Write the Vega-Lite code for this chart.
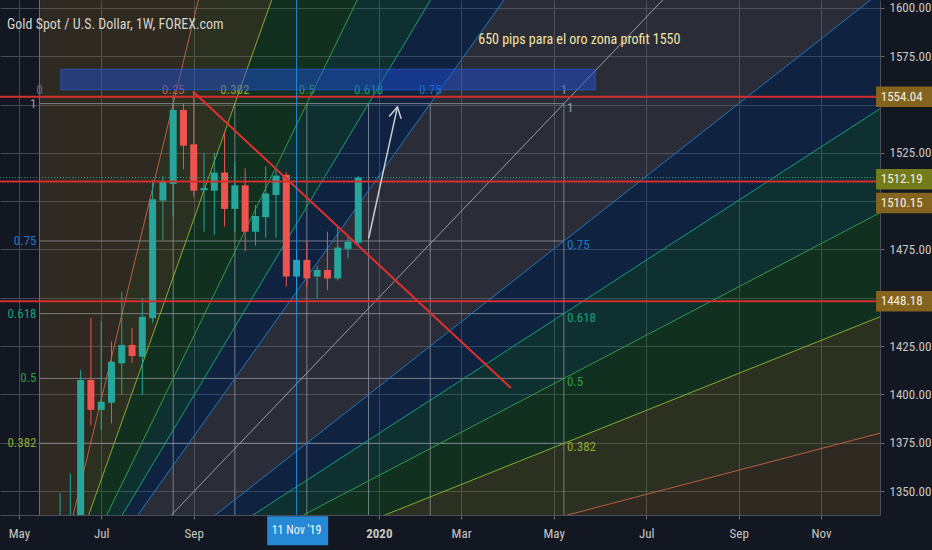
{
 "$schema": "https://vega.github.io/schema/vega-lite/v6.json",
 "width": 880,
 "height": 515,
 "autosize": {"type": "none"},
 "padding": {"left": 0, "top": 0, "right": 52, "bottom": 35},
 "background": "#131722",
 "title": {"text": "Gold Spot / U.S. Dollar, 1W, FOREX.com", "anchor": "start", "frame": "group", "offset": -32, "dx": 7, "fontSize": 14, "fontWeight": "normal", "color": "#d6d3c9", "font": "Liberation Sans Narrow, Arial Narrow, Roboto Condensed, DejaVu Sans Condensed, sans-serif"},
 "config": {
  "view": {"stroke": null},
  "font": "Liberation Sans Narrow, Arial Narrow, Roboto Condensed, DejaVu Sans Condensed, sans-serif"
 },
 "datasets": {
  "fills": [
   {"w": "pgy", "band": "gy", "d": "2019-05-20", "top": 1266, "bot": 1266}, {"w": "pgy", "band": "gy", "d": "2020-12-31", "top": 1737.0, "bot": 1619.2},
   {"w": "pnv", "band": "nv", "d": "2019-05-20", "top": 1266, "bot": 1266}, {"w": "pnv", "band": "nv", "d": "2020-12-31", "top": 1619.2, "bot": 1557.1},
   {"w": "pte", "band": "te", "d": "2019-05-20", "top": 1266, "bot": 1266}, {"w": "pte", "band": "te", "d": "2020-12-31", "top": 1557.1, "bot": 1501.5},
   {"w": "pgr", "band": "gr", "d": "2019-05-20", "top": 1266, "bot": 1266}, {"w": "pgr", "band": "gr", "d": "2020-12-31", "top": 1501.5, "bot": 1445.9},
   {"w": "pol", "band": "ol", "d": "2019-05-20", "top": 1266, "bot": 1266}, {"w": "pol", "band": "ol", "d": "2020-12-31", "top": 1445.9, "bot": 1383.7},
   {"w": "pbr", "band": "br", "d": "2019-05-20", "top": 1266, "bot": 1266}, {"w": "pbr", "band": "br", "d": "2020-12-31", "top": 1383.7, "bot": 1266},
   {"w": "tbr", "band": "br", "d": "2019-05-20", "top": 1266, "bot": 1266}, {"w": "tbr", "band": "br", "d": "2019-09-19T20:00Z", "top": 100000, "bot": 1650},
   {"w": "tol", "band": "ol", "d": "2019-05-20", "top": 1266, "bot": 1266}, {"w": "tol", "band": "ol", "d": "2019-11-15T12:00Z", "top": 1827.2, "bot": 1650},
   {"w": "tgr", "band": "gr", "d": "2019-05-20", "top": 1266, "bot": 1266}, {"w": "tgr", "band": "gr", "d": "2020-01-20T16:00Z", "top": 1791.5, "bot": 1650},
   {"w": "tte", "band": "te", "d": "2019-05-20", "top": 1266, "bot": 1266}, {"w": "tte", "band": "te", "d": "2020-03-17T08:00Z", "top": 1738.6, "bot": 1650},
   {"w": "tnv", "band": "nv", "d": "2019-05-20", "top": 1266, "bot": 1266}, {"w": "tnv", "band": "nv", "d": "2020-05-13T01:00Z", "top": 1722.0, "bot": 1650},
   {"w": "tgy", "band": "gy", "d": "2019-05-20", "top": 1266, "bot": 1266}, {"w": "tgy", "band": "gy", "d": "2020-09-12T21:00Z", "top": 1781.4, "bot": 1650}
  ],
  "fanlines": [
   {"lvl": "0.25", "x1": "2019-05-20", "y1": 1266, "x2": "2020-12-31", "y2": 1383.7},
   {"lvl": "0.382", "x1": "2019-05-20", "y1": 1266, "x2": "2020-12-31", "y2": 1445.9},
   {"lvl": "0.5", "x1": "2019-05-20", "y1": 1266, "x2": "2020-12-31", "y2": 1501.5},
   {"lvl": "0.618", "x1": "2019-05-20", "y1": 1266, "x2": "2020-12-31", "y2": 1557.1},
   {"lvl": "0.75", "x1": "2019-05-20", "y1": 1266, "x2": "2020-12-31", "y2": 1619.2},
   {"lvl": "1", "x1": "2019-05-20", "y1": 1266, "x2": "2020-12-31", "y2": 1737.0},
   {"lvl": "0", "x1": "2019-05-20", "y1": 1266, "x2": "2019-05-20", "y2": 1650},
   {"lvl": "0.25", "x1": "2019-05-20", "y1": 1266, "x2": "2019-09-19T20:00Z", "y2": 1650},
   {"lvl": "0.382", "x1": "2019-05-20", "y1": 1266, "x2": "2019-11-15T12:00Z", "y2": 1650},
   {"lvl": "0.5", "x1": "2019-05-20", "y1": 1266, "x2": "2020-01-20T16:00Z", "y2": 1650},
   {"lvl": "0.618", "x1": "2019-05-20", "y1": 1266, "x2": "2020-03-17T08:00Z", "y2": 1650},
   {"lvl": "0.75", "x1": "2019-05-20", "y1": 1266, "x2": "2020-05-13T01:00Z", "y2": 1650}
  ],
  "fangrid": [
   {"x1": "2019-05-20", "x2": "2020-05-11", "y1": 1550.5, "y2": 1550.5},
   {"x1": "2019-05-20", "x2": "2020-05-11", "y1": 1479.4, "y2": 1479.4},
   {"x1": "2019-05-20", "x2": "2020-05-11", "y1": 1441.8, "y2": 1441.8},
   {"x1": "2019-05-20", "x2": "2020-05-11", "y1": 1408.3, "y2": 1408.3},
   {"x1": "2019-05-20", "x2": "2020-05-11", "y1": 1374.7, "y2": 1374.7},
   {"x1": "2019-05-20", "x2": "2020-05-11", "y1": 1337.1, "y2": 1337.1},
   {"x1": "2019-08-19", "x2": "2019-08-19", "y1": 1266, "y2": 1550.5},
   {"x1": "2019-09-30", "x2": "2019-09-30", "y1": 1266, "y2": 1550.5},
   {"x1": "2019-11-18", "x2": "2019-11-18", "y1": 1266, "y2": 1550.5},
   {"x1": "2019-12-30", "x2": "2019-12-30", "y1": 1266, "y2": 1550.5},
   {"x1": "2020-02-10", "x2": "2020-02-10", "y1": 1266, "y2": 1550.5},
   {"x1": "2020-05-11", "x2": "2020-05-11", "y1": 1266, "y2": 1550.5}
  ],
  "toplabels": [
   {"t": "0", "d": "2019-05-20", "lvl": "0"},
   {"t": "0.25", "d": "2019-08-19", "lvl": "0.25"},
   {"t": "0.382", "d": "2019-09-30", "lvl": "0.382"},
   {"t": "0.5", "d": "2019-11-18", "lvl": "0.5"},
   {"t": "0.618", "d": "2019-12-30", "lvl": "0.618"},
   {"t": "0.75", "d": "2020-02-10", "lvl": "0.75"},
   {"t": "1", "d": "2020-05-11", "lvl": "1"}
  ],
  "sidelabels": [
   {"t": "1", "p": 1550.5, "lvl": "1"},
   {"t": "0.75", "p": 1479.4, "lvl": "0.75"},
   {"t": "0.618", "p": 1441.8, "lvl": "0.618"},
   {"t": "0.5", "p": 1408.3, "lvl": "0.5"},
   {"t": "0.382", "p": 1374.7, "lvl": "0.382"}
  ],
  "candles": [
   {"d": "2019-06-03", "o": 1300, "h": 1349, "l": 1295, "c": 1336},
   {"d": "2019-06-10", "o": 1326, "h": 1359, "l": 1320, "c": 1336},
   {"d": "2019-06-17", "o": 1336, "h": 1412.6, "l": 1330, "c": 1407.5},
   {"d": "2019-06-24", "o": 1407.5, "h": 1439.5, "l": 1384, "c": 1392},
   {"d": "2019-07-01", "o": 1392, "h": 1438, "l": 1381.6, "c": 1396.2},
   {"d": "2019-07-08", "o": 1395.7, "h": 1427.3, "l": 1385, "c": 1416.9},
   {"d": "2019-07-15", "o": 1416.1, "h": 1453.2, "l": 1399.8, "c": 1425.6},
   {"d": "2019-07-22", "o": 1425.6, "h": 1434.4, "l": 1416.3, "c": 1419.9},
   {"d": "2019-07-29", "o": 1419.5, "h": 1449.9, "l": 1399.7, "c": 1440.2},
   {"d": "2019-08-05", "o": 1439.5, "h": 1511, "l": 1437, "c": 1501},
   {"d": "2019-08-12", "o": 1500.3, "h": 1513, "l": 1480, "c": 1510.1},
   {"d": "2019-08-19", "o": 1508.9, "h": 1555, "l": 1492, "c": 1547.2},
   {"d": "2019-08-26", "o": 1547.2, "h": 1550.7, "l": 1516.5, "c": 1528.7},
   {"d": "2019-09-02", "o": 1529.4, "h": 1557, "l": 1502.3, "c": 1505.4},
   {"d": "2019-09-09", "o": 1505.6, "h": 1525, "l": 1484.2, "c": 1506.8},
   {"d": "2019-09-16", "o": 1505.4, "h": 1525, "l": 1482.5, "c": 1514.8},
   {"d": "2019-09-23", "o": 1514.8, "h": 1536, "l": 1486.8, "c": 1496},
   {"d": "2019-09-30", "o": 1496, "h": 1520.5, "l": 1484.2, "c": 1508.2},
   {"d": "2019-10-07", "o": 1508.2, "h": 1517, "l": 1474, "c": 1484.2},
   {"d": "2019-10-14", "o": 1484.2, "h": 1498, "l": 1477, "c": 1492.3},
   {"d": "2019-10-21", "o": 1491.7, "h": 1518, "l": 1481, "c": 1504},
   {"d": "2019-10-28", "o": 1503.2, "h": 1516, "l": 1481, "c": 1513.2},
   {"d": "2019-11-04", "o": 1513.6, "h": 1515, "l": 1455.8, "c": 1461},
   {"d": "2019-11-11", "o": 1461, "h": 1474.7, "l": 1449.7, "c": 1469.6},
   {"d": "2019-11-18", "o": 1469.6, "h": 1479, "l": 1455.7, "c": 1460},
   {"d": "2019-11-25", "o": 1461, "h": 1466.5, "l": 1449.7, "c": 1464.4},
   {"d": "2019-12-02", "o": 1464.4, "h": 1484.2, "l": 1454, "c": 1460},
   {"d": "2019-12-09", "o": 1460, "h": 1486.8, "l": 1459, "c": 1476},
   {"d": "2019-12-16", "o": 1475.3, "h": 1482, "l": 1470.4, "c": 1479},
   {"d": "2019-12-23", "o": 1478.5, "h": 1513, "l": 1477, "c": 1512.19}
  ],
  "hlines": [{"p": 1554.04}, {"p": 1510.15}, {"p": 1448.18}],
  "segs": [
   {"k": "trend", "x1": "2019-09-01T12:00Z", "y1": 1556.7, "x2": "2020-04-05", "y2": 1403.3}
  ],
  "arrow": [
   {"x1": "2019-12-30T03:00Z", "y1": 1480.95, "x2": "2020-01-18T16:00Z", "y2": 1548.76},
   {"x1": "2020-01-13T06:00Z", "y1": 1544.1, "x2": "2020-01-18T16:00Z", "y2": 1548.76},
   {"x1": "2020-01-21T02:00Z", "y1": 1542.9, "x2": "2020-01-18T16:00Z", "y2": 1548.76}
  ],
  "zone": [{"x1": "2019-06-03T12:00Z", "x2": "2020-06-01T08:00Z", "y1": 1557.6, "y2": 1568.3}],
  "notes": [{"t": "650 pips para el oro zona profit 1550", "d": "2020-05-21T12:00Z", "p": 1583.4}],
  "tags": [
   {"t": "1554.04", "k": "r", "c": 1554.04, "lo": 1548.7, "hi": 1559.4},
   {"t": "1512.19", "k": "g", "c": 1511.4, "lo": 1506.1, "hi": 1516.7},
   {"t": "1510.15", "k": "r", "c": 1499.0, "lo": 1493.8, "hi": 1504.3},
   {"t": "1448.18", "k": "r", "c": 1448.18, "lo": 1442.9, "hi": 1453.5}
  ],
  "cross": [{"d": "2019-11-11", "t": "11 Nov '19", "x1": "2019-10-22", "x2": "2019-12-02T12:00Z", "lo": 1322, "hi": 1337.0, "p": 1329.6}]
 },
 "layer": [
  {
   "data": {"name": "fills"},
   "mark": {"type": "area", "clip": true, "opacity": 0.25},
   "encoding": {
    "x": {"field": "d", "type": "temporal", "title": null, "scale": {"type": "utc", "domain": [{"year": 2019, "month": 4, "date": 26, "hours": 12, "utc": true}, {"year": 2020, "month": 12, "date": 8, "hours": 19, "utc": true}], "nice": false},
     "axis": {"orient": "bottom", "title": null, "values": [{"year": 2019, "month": 5, "date": 6, "utc": true}, {"year": 2019, "month": 7, "date": 1, "utc": true}, {"year": 2019, "month": 9, "date": 2, "utc": true}, {"year": 2020, "month": 1, "date": 6, "utc": true}, {"year": 2020, "month": 3, "date": 2, "utc": true}, {"year": 2020, "month": 5, "date": 4, "utc": true}, {"year": 2020, "month": 7, "date": 6, "utc": true}, {"year": 2020, "month": 9, "date": 7, "utc": true}, {"year": 2020, "month": 11, "date": 2, "utc": true}],
      "labelExpr": "utcmonth(datum.value) == 0 ? utcFormat(datum.value, '%Y') : utcFormat(datum.value, '%b')",
      "labelColor": "#c9c7c0", "labelFontSize": 13, "labelPadding": 8, "tickSize": 4, "tickColor": "#6a6d78", "domainColor": "#4a4e5a",
      "labelFontWeight": {"condition": {"test": "utcmonth(datum.value) == 0", "value": "bold"}, "value": "normal"},
      "grid": true, "gridColor": "#454955", "labelFlush": false, "labelOverlap": false}},
    "y": {"field": "top", "type": "quantitative", "title": null, "scale": {"domain": [1337.6, 1604.1], "nice": false, "zero": false},
     "axis": {"orient": "right", "title": null, "values": [1350, 1375, 1400, 1425, 1450, 1475, 1500, 1525, 1550, 1575, 1600],
      "labelExpr": "datum.value == 1450 || datum.value == 1500 || datum.value == 1550 ? '' : format(datum.value, '.2f')",
      "labelColor": "#c9c7c0", "labelFontSize": 13, "labelPadding": 5, "tickSize": 4, "tickColor": "#6a6d78", "domainColor": "#4a4e5a",
      "grid": true, "gridColor": "#454955", "labelFlush": false, "labelOverlap": false}},
    "y2": {"field": "bot"},
    "detail": {"field": "w"},
    "fill": {"field": "band", "type": "nominal", "scale": {"domain": ["br", "ol", "gr", "te", "nv", "gy"], "range": ["#83631e", "#737b1a", "#0f7b16", "#037b5a", "#03479a", "#6f6f7a"]}, "legend": null}
   }
  },
  {
   "data": {"name": "fangrid"},
   "mark": {"type": "rule", "clip": true, "color": "#9598a1", "opacity": 0.75, "strokeWidth": 1},
   "encoding": {
    "x": {"field": "x1", "type": "temporal", "title": null}, "x2": {"field": "x2"},
    "y": {"field": "y1", "type": "quantitative", "title": null}, "y2": {"field": "y2"}
   }
  },
  {
   "data": {"name": "fanlines"},
   "mark": {"type": "rule", "clip": true, "strokeWidth": 1},
   "encoding": {
    "x": {"field": "x1", "type": "temporal", "title": null}, "x2": {"field": "x2"},
    "y": {"field": "y1", "type": "quantitative", "title": null}, "y2": {"field": "y2"},
    "color": {"field": "lvl", "type": "nominal", "scale": {"domain": ["0", "0.25", "0.382", "0.5", "0.618", "0.75", "1"], "range": ["#6a6d78", "#b8613f", "#8bab2f", "#2e9e48", "#13a07a", "#2176c2", "#9a9da6"]}, "legend": null}
   }
  },
  {
   "data": {"name": "toplabels"},
   "mark": {"type": "text", "fontSize": 13, "align": "center", "baseline": "middle", "clip": true},
   "encoding": {
    "x": {"field": "d", "type": "temporal", "title": null},
    "y": {"datum": 1557.3, "type": "quantitative"},
    "text": {"field": "t"},
    "color": {"field": "lvl", "type": "nominal", "legend": null}
   }
  },
  {
   "data": {"name": "sidelabels"},
   "mark": {"type": "text", "fontSize": 13, "align": "right", "baseline": "middle", "dx": -3},
   "encoding": {
    "x": {"datum": {"year": 2019, "month": 5, "date": 20, "utc": true}, "type": "temporal"},
    "y": {"field": "p", "type": "quantitative", "title": null},
    "text": {"field": "t"},
    "color": {"field": "lvl", "type": "nominal", "legend": null}
   }
  },
  {
   "data": {"name": "sidelabels"},
   "mark": {"type": "text", "fontSize": 13, "align": "left", "baseline": "middle", "dx": 3, "dy": 4},
   "encoding": {
    "x": {"datum": {"year": 2020, "month": 5, "date": 11, "utc": true}, "type": "temporal"},
    "y": {"field": "p", "type": "quantitative", "title": null},
    "text": {"field": "t"},
    "color": {"field": "lvl", "type": "nominal", "legend": null}
   }
  },
  {
   "data": {"name": "zone"},
   "mark": {"type": "rect", "clip": true, "fill": "#1e53e5", "fillOpacity": 0.45, "stroke": "#2f5ad8", "strokeOpacity": 0.7, "strokeWidth": 1},
   "encoding": {
    "x": {"field": "x1", "type": "temporal", "title": null}, "x2": {"field": "x2"},
    "y": {"field": "y1", "type": "quantitative", "title": null}, "y2": {"field": "y2"}
   }
  },
  {
   "data": {"name": "candles"},
   "mark": {"type": "rule", "clip": true, "strokeWidth": 1},
   "encoding": {
    "x": {"field": "d", "type": "temporal", "title": null},
    "y": {"field": "l", "type": "quantitative", "title": null}, "y2": {"field": "h"},
    "color": {"condition": {"test": "datum.c >= datum.o", "value": "#26a69a"}, "value": "#ef5350"}
   }
  },
  {
   "data": {"name": "candles"},
   "mark": {"type": "bar", "clip": true, "size": 7},
   "encoding": {
    "x": {"field": "d", "type": "temporal", "title": null},
    "y": {"field": "o", "type": "quantitative", "title": null}, "y2": {"field": "c"},
    "color": {"condition": {"test": "datum.c >= datum.o", "value": "#26a69a"}, "value": "#ef5350"}
   }
  },
  {
   "data": {"name": "hlines"},
   "mark": {"type": "rule", "clip": true, "color": "#d32f2f", "strokeWidth": 2},
   "encoding": {"y": {"field": "p", "type": "quantitative", "title": null}}
  },
  {
   "data": {"values": [{"p": 1512.19}]},
   "mark": {"type": "rule", "clip": true, "color": "#26a69a", "strokeWidth": 1, "strokeDash": [1, 2]},
   "encoding": {"y": {"field": "p", "type": "quantitative", "title": null}}
  },
  {
   "data": {"name": "segs"},
   "mark": {"type": "rule", "clip": true, "color": "#e0302e", "strokeWidth": 2},
   "encoding": {
    "x": {"field": "x1", "type": "temporal", "title": null}, "x2": {"field": "x2"},
    "y": {"field": "y1", "type": "quantitative", "title": null}, "y2": {"field": "y2"}
   }
  },
  {
   "data": {"name": "arrow"},
   "mark": {"type": "rule", "clip": true, "color": "#c9ccd3", "strokeWidth": 1.5, "strokeCap": "round"},
   "encoding": {
    "x": {"field": "x1", "type": "temporal", "title": null}, "x2": {"field": "x2"},
    "y": {"field": "y1", "type": "quantitative", "title": null}, "y2": {"field": "y2"}
   }
  },
  {
   "data": {"name": "cross"},
   "mark": {"type": "rule", "clip": true, "color": "#2196f3", "opacity": 0.85, "strokeWidth": 1},
   "encoding": {"x": {"field": "d", "type": "temporal", "title": null}}
  },
  {
   "data": {"name": "notes"},
   "mark": {"type": "text", "fontSize": 14, "align": "center", "baseline": "middle", "color": "#f5e6a3"},
   "encoding": {
    "x": {"field": "d", "type": "temporal", "title": null},
    "y": {"field": "p", "type": "quantitative", "title": null},
    "text": {"field": "t"}
   }
  },
  {
   "data": {"name": "tags"},
   "mark": {"type": "rect", "clip": false},
   "encoding": {
    "x": {"datum": {"year": 2020, "month": 12, "date": 9, "hours": 12, "utc": true}, "type": "temporal"},
    "x2": {"datum": {"year": 2021, "month": 1, "date": 25, "utc": true}},
    "y": {"field": "lo", "type": "quantitative", "title": null}, "y2": {"field": "hi"},
    "fill": {"field": "k", "type": "nominal", "scale": {"domain": ["r", "g"], "range": ["#cc2b2b", "#26a69a"]}, "legend": null}
   }
  },
  {
   "data": {"name": "tags"},
   "mark": {"type": "text", "clip": false, "fontSize": 13, "align": "center", "baseline": "middle", "color": "#f3efe6"},
   "encoding": {
    "x": {"datum": {"year": 2020, "month": 12, "date": 27, "utc": true}, "type": "temporal"},
    "y": {"field": "c", "type": "quantitative", "title": null},
    "text": {"field": "t"}
   }
  },
  {
   "data": {"name": "cross"},
   "mark": {"type": "rect", "clip": false, "fill": "#2689d6"},
   "encoding": {
    "x": {"field": "x1", "type": "temporal", "title": null}, "x2": {"field": "x2"},
    "y": {"field": "lo", "type": "quantitative", "title": null}, "y2": {"field": "hi"}
   }
  },
  {
   "data": {"name": "cross"},
   "mark": {"type": "text", "clip": false, "fontSize": 12, "align": "center", "baseline": "middle", "color": "#f4f6fa"},
   "encoding": {
    "x": {"field": "d", "type": "temporal", "title": null},
    "y": {"field": "p", "type": "quantitative", "title": null},
    "text": {"field": "t"}
   }
  }
 ]
}
